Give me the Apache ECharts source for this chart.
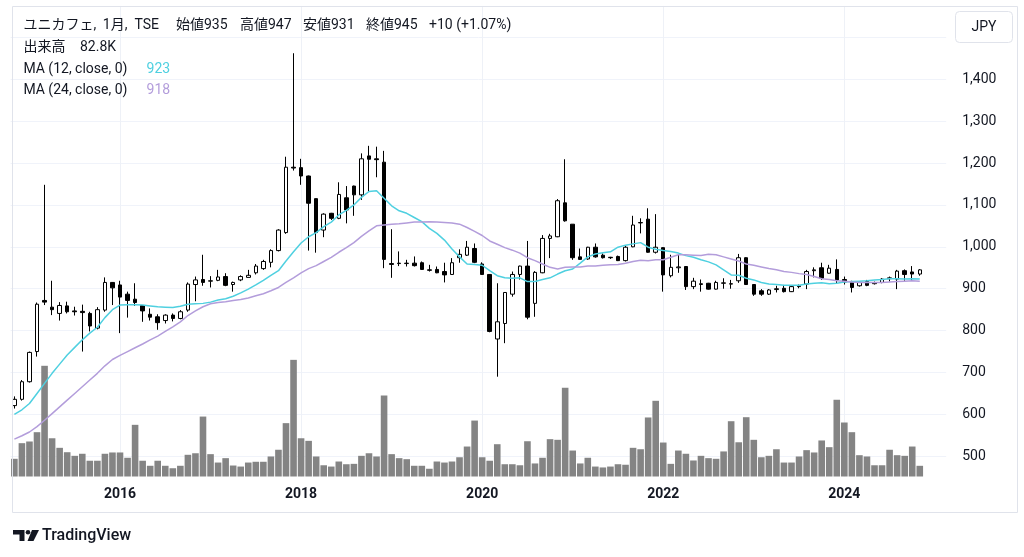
<!DOCTYPE html>
<html><head><meta charset="utf-8">
<script src="https://cdn.jsdelivr.net/npm/echarts@6/dist/echarts.min.js"></script>
<style>html,body{margin:0;padding:0;background:#fff;} #c{width:1024px;height:557px;}</style>
</head><body><div id="c"></div>
<script>
const categories = ['2014-11','2014-12',
'2015-01','2015-02','2015-03','2015-04','2015-05','2015-06','2015-07','2015-08','2015-09','2015-10','2015-11','2015-12',
'2016-01','2016-02','2016-03','2016-04','2016-05','2016-06','2016-07','2016-08','2016-09','2016-10','2016-11','2016-12',
'2017-01','2017-02','2017-03','2017-04','2017-05','2017-06','2017-07','2017-08','2017-09','2017-10','2017-11','2017-12',
'2018-01','2018-02','2018-03','2018-04','2018-05','2018-06','2018-07','2018-08','2018-09','2018-10','2018-11','2018-12',
'2019-01','2019-02','2019-03','2019-04','2019-05','2019-06','2019-07','2019-08','2019-09','2019-10','2019-11','2019-12',
'2020-01','2020-02','2020-03','2020-04','2020-05','2020-06','2020-07','2020-08','2020-09','2020-10','2020-11','2020-12',
'2021-01','2021-02','2021-03','2021-04','2021-05','2021-06','2021-07','2021-08','2021-09','2021-10','2021-11','2021-12',
'2022-01','2022-02','2022-03','2022-04','2022-05','2022-06','2022-07','2022-08','2022-09','2022-10','2022-11','2022-12',
'2023-01','2023-02','2023-03','2023-04','2023-05','2023-06','2023-07','2023-08','2023-09','2023-10','2023-11','2023-12',
'2024-01','2024-02','2024-03','2024-04','2024-05','2024-06','2024-07','2024-08','2024-09','2024-10','2024-11'];
const opens = [621,636,678,750,872,856,841,859,847,846,841,806,849,915,909,887,875,860,839,833,824,837,829,849,910,922,918,920,929,910,921,927,938,948,963,991,1034,1190,1189,1169,1115,1040,1080,1068,1117,1145,1124,1217,1210,1202,960,961,960,961,962,945,946,941,934,974,980,996,959,934,780,817,887,934,954,865,938,1020,1024,1105,1054,976,971,999,980,975,977,967,1000,1057,1066,987,998,931,950,953,905,910,913,899,913,911,919,974,910,895,887,898,901,893,905,911,943,950,937,946,922,915,907,917,912,915,924,923,943,940,935];
const highs = [643,682,750,867,1148,919,868,869,857,862,845,856,927,916,919,893,913,861,853,839,839,841,849,915,929,981,930,945,937,917,932,945,959,969,994,1042,1215,1462,1210,1170,1115,1080,1081,1154,1145,1146,1223,1241,1239,1229,1042,989,969,977,965,957,953,962,973,994,1014,1008,963,935,913,892,941,955,1014,942,1028,1031,1114,1209,1054,996,1000,1008,984,976,979,1002,1074,1068,1092,1078,999,981,981,954,926,922,914,919,925,921,983,975,911,899,899,907,909,907,910,945,951,962,957,970,929,919,918,921,917,925,929,945,946,954,947];
const lows = [614,633,676,738,861,837,824,841,836,750,798,803,845,861,794,831,859,821,824,802,817,822,827,845,870,907,903,918,906,893,918,927,934,945,951,989,1031,1182,1148,991,986,1023,1064,1066,1056,1074,1112,1132,1166,949,926,954,953,953,945,941,937,915,933,962,978,961,933,796,690,770,881,922,827,833,937,973,1023,1060,969,969,969,974,972,971,966,965,999,1032,986,984,893,927,938,897,899,893,898,898,900,900,914,909,883,883,885,891,891,892,901,899,927,921,936,913,910,891,905,906,910,913,917,899,919,919,931];
const closes = [636,678,748,863,868,850,860,845,845,843,811,850,915,902,880,872,867,847,832,819,837,829,845,911,921,915,919,928,908,915,929,932,954,965,991,1040,1190,1188,1169,1104,1034,1078,1068,1125,1088,1124,1210,1209,1208,970,958,960,961,955,946,944,938,933,962,982,999,963,934,798,821,891,934,954,832,939,1020,1026,1110,1062,974,970,999,976,974,974,967,999,1052,1058,987,999,933,951,952,905,918,912,899,915,914,912,974,910,887,887,897,900,893,905,907,941,945,925,949,921,916,903,915,908,914,923,926,942,934,935,945];
const volumes = [137,258,271,343,857,296,222,188,160,176,122,122,176,186,186,145,400,122,83,122,83,64,83,168,180,464,173,108,142,85,77,108,114,114,155,207,413,903,296,276,155,87,77,116,95,98,160,180,155,627,173,142,134,83,83,60,116,108,116,149,232,433,149,122,250,95,95,87,273,101,145,289,284,687,201,101,145,77,70,77,95,91,222,211,457,586,263,98,201,176,124,160,142,137,194,428,265,459,284,149,160,211,108,108,155,204,186,279,227,594,418,343,165,155,87,87,207,165,160,232,82.8];
const ma12 = [600,611,626,650,674,698,720,742,760,778,794,
808,831,850,861,862,862,861,859,857,856,855,858,863,864,865,868,873,876,882,890,
899,909,920,932,943,966,988,1009,1024,1034,1048,1059,1076,1087,1100,1118,1132,1134,1116,1098,
1086,1080,1070,1060,1044,1032,1016,995,976,959,958,956,943,931,926,925,926,917,917,922,
926,935,943,947,961,976,983,986,988,999,1004,1007,1010,999,994,991,989,985,979,975,
969,964,957,945,933,932,925,921,915,911,910,908,908,908,911,913,914,912,913,916,
917,918,919,921,922,924,924,923,924,923];
const ma24 = [541,549,558,571,586,602,618,634,650,666,682,698,716,731,741,750,759,768,778,787,798,809,821,
836,847,857,864,867,869,872,874,878,883,888,895,903,915,926,938,948,955,965,975,
987,998,1010,1025,1038,1050,1052,1054,1055,1057,1059,1059,1060,1059,1058,1057,1054,1046,1037,1027,
1014,1006,998,992,985,974,967,959,951,947,951,952,952,954,954,956,957,958,961,965,
968,967,969,969,975,981,981,980,979,982,981,976,971,966,959,956,952,948,945,941,
939,936,934,929,924,922,919,918,916,915,915,915,915,916,917,918,919,918];
const yearLabels = ['2016','2018','2020','2022','2024'];
const priceLabels = [500,600,700,800,900,1000,1100,1200,1300,1400];

const FONT = 'Roboto, "Noto Sans CJK JP", sans-serif';
const TXT = '#131722';
const padCats = categories.concat(['', '', '']);
const showYear = (i, v) => typeof v === 'string' && v.slice(5) === '01' && yearLabels.indexOf(v.slice(0, 4)) >= 0;
const candleData = opens.map((o, i) => [o, closes[i], lows[i], highs[i]]);

const L = 10.6, BW = 7.545, R = 1024 - (L + padCats.length * BW);
const chart = echarts.init(document.getElementById('c'));
const last = closes.length - 1;
const chg = closes[last] - closes[last - 1];
const pct = (chg / closes[last - 1] * 100).toFixed(2);
const sg = chg >= 0 ? '+' : '';
const headParts = ['ユニカフェ,', '1月,', 'TSE', '始値' + opens[last], '高値' + highs[last], '安値' + lows[last], '終値' + closes[last], sg + chg + ' (' + sg + pct + '%)'];
const headX = [23.4, 102.8, 134.5, 176, 240, 303, 366, 429];
const t = (x, y, s, fill, extra) => ({type: 'text', x: x, y: y, z: 100, style: Object.assign({text: s, font: '14px ' + FONT, fill: fill || TXT, verticalAlign: 'middle', align: 'left'}, extra || {})});
const graphics = [];
headParts.forEach((p, i) => graphics.push(t(headX[i], 25.5, p)));
graphics.push(t(23.4, 47.5, '出来高'));
graphics.push(t(80, 47.5, volumes[last].toFixed(1) + 'K'));
graphics.push(t(23.4, 69.2, 'MA (12, close, 0)'));
graphics.push(t(146.6, 69.2, String(ma12[last]), '#4fd0e0'));
graphics.push(t(23.4, 90.5, 'MA (24, close, 0)'));
graphics.push(t(146.6, 90.5, String(ma24[last]), '#b39ddb'));
graphics.push({type: 'rect', z: 90, shape: {x: 12.5, y: 6.5, width: 1005, height: 506}, style: {fill: 'none', stroke: '#e0e3eb', lineWidth: 1}});
graphics.push({type: 'rect', z: 90, shape: {x: 955.5, y: 11.5, width: 57, height: 31, r: 4}, style: {fill: '#fff', stroke: '#e0e3eb', lineWidth: 1}});
graphics.push(t(984, 27, 'JPY', TXT, {align: 'center'}));
graphics.push({type: 'polygon', z: 100, shape: {points: [[13, 530], [24.5, 530], [24.5, 541], [19.5, 541], [19.5, 534.5], [13, 534.5]]}, style: {fill: TXT}});
graphics.push({type: 'circle', z: 100, shape: {cx: 28, cy: 532.3, r: 2.3}, style: {fill: TXT}});
graphics.push({type: 'polygon', z: 100, shape: {points: [[32, 530], [39, 530], [33.5, 541], [27.5, 541]]}, style: {fill: TXT}});
graphics.push(t(42, 535.5, 'TradingView', TXT, {font: '500 16px ' + FONT}));

chart.setOption({
  animation: false,
  backgroundColor: '#ffffff',
  grid: [
    {left: L, right: R, top: 5.9, height: 492.3},
    {left: L, right: R, top: 5.9, height: 470.6}
  ],
  xAxis: [
    {type: 'category', gridIndex: 0, data: padCats, boundaryGap: true, show: false},
    {type: 'category', gridIndex: 1, data: padCats, boundaryGap: true,
     axisLine: {show: false}, axisTick: {show: false},
     axisLabel: {interval: showYear, formatter: v => v.slice(0, 4), margin: 11, color: TXT, fontSize: 14, fontWeight: 'bold', fontFamily: FONT},
     splitLine: {show: true, interval: showYear, alignWithLabel: true, lineStyle: {color: '#eef1f7', width: 1}}}
  ],
  yAxis: [
    {type: 'value', gridIndex: 0, position: 'right', min: 400, max: 1575, interval: 100,
     axisLine: {show: false}, axisTick: {show: false},
     axisLabel: {margin: 16, color: TXT, fontSize: 14, fontFamily: FONT, formatter: v => priceLabels.indexOf(v) >= 0 ? v.toLocaleString('en-US') : ''},
     splitLine: {show: true, showMinLine: false, showMaxLine: false, lineStyle: {color: '#f0f3fa', width: 1}}},
    {type: 'value', gridIndex: 1, min: 0, max: 3643, show: false, splitLine: {show: false}}
  ],
  series: [
    {type: 'bar', name: 'vol', xAxisIndex: 1, yAxisIndex: 1, data: volumes, barWidth: 6.6, itemStyle: {color: '#848484'}, z: 1, silent: true},
    {type: 'candlestick', name: 'price', xAxisIndex: 0, yAxisIndex: 0, data: candleData, barWidth: 4, z: 3,
     itemStyle: {color: '#ffffff', color0: '#000000', borderColor: '#000000', borderColor0: '#000000', borderWidth: 1}},
    {type: 'line', name: 'ma12', xAxisIndex: 0, yAxisIndex: 0, data: ma12, showSymbol: false, symbol: 'none', z: 4, lineStyle: {color: '#4fd0e0', width: 1.5}},
    {type: 'line', name: 'ma24', xAxisIndex: 0, yAxisIndex: 0, data: ma24, showSymbol: false, symbol: 'none', z: 4, lineStyle: {color: '#b39ddb', width: 1.5}}
  ],
  graphic: graphics
});
</script></body></html>
